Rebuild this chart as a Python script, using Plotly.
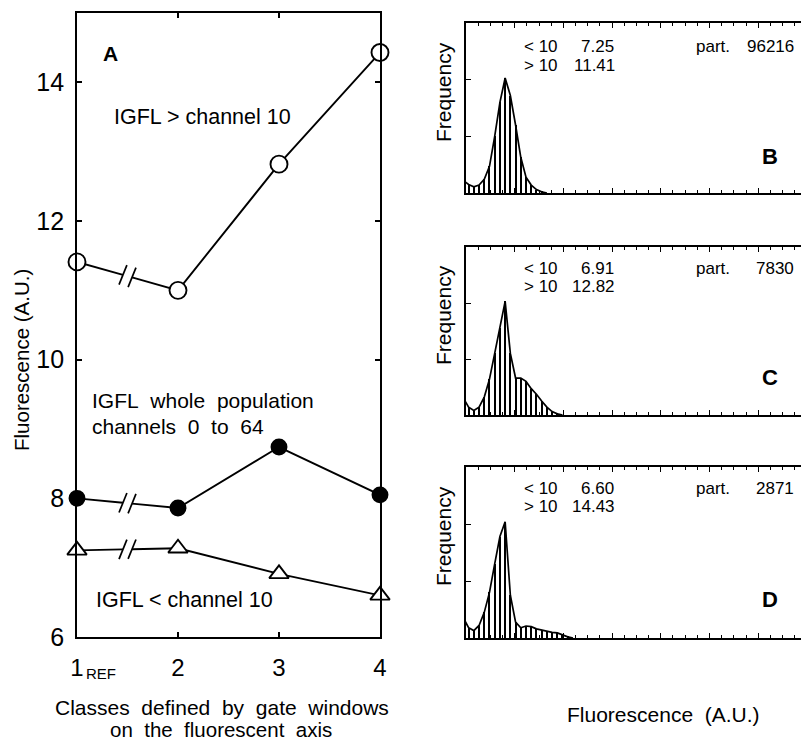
import plotly.graph_objects as go

W, H = 801, 741
FONT = "Liberation Sans, Arial, Helvetica, sans-serif"

# ---------------- data: panel A ----------------
classes = [1, 2, 3, 4]
igfl_above10 = [11.41, 11.0, 12.82, 14.43]
igfl_whole = [8.0, 7.86, 8.74, 8.05]
igfl_below10 = [7.25, 7.28, 6.91, 6.60]

# ---------------- data: histograms (frequency per channel, arbitrary units) ----------------
channels_B = list(range(0, 17))
freq_B = [0.22, 0.15, 0.11, 0.14, 0.24, 0.47, 1.00, 1.60, 2.03, 1.72, 1.20, 0.63, 0.28, 0.14, 0.06, 0.02, 0.0]
channels_C = list(range(0, 20))
freq_C = [0.30, 0.14, 0.08, 0.14, 0.32, 0.64, 1.10, 1.55, 2.03, 1.10, 0.66, 0.66, 0.60, 0.47, 0.37, 0.25, 0.14, 0.06, 0.02, 0.0]
channels_D = list(range(0, 22))
freq_D = [0.35, 0.18, 0.13, 0.22, 0.45, 0.80, 1.30, 1.78, 2.04, 0.75, 0.28, 0.18, 0.21, 0.20, 0.16, 0.14, 0.11, 0.10, 0.09, 0.05, 0.02, 0.0]

hist_stats = {
    "B": {"below": "7.25", "above": "11.41", "part": "96216"},
    "C": {"below": "6.91", "above": "12.82", "part": "7830"},
    "D": {"below": "6.60", "above": "14.43", "part": "2871"},
}

def px(x):
    return x / W

def py(y):
    return 1 - y / H

fig = go.Figure()

# ---------- panel A lines with axis break between class 1 and 2 ----------
BREAK_L, BREAK_R = 1.455, 1.545

def broken(xs, ys):
    y1, y2 = ys[0], ys[1]
    t = lambda xb: y1 + (y2 - y1) * (xb - xs[0]) / (xs[1] - xs[0])
    yl, yr = t(BREAK_L), t(BREAK_R)
    lx = [xs[0], BREAK_L, None, BREAK_R] + xs[1:]
    ly = [ys[0], yl, None, yr] + ys[1:]
    return lx, ly, (yl, yr)

series = [
    (igfl_above10, "circle", "white", 17),
    (igfl_whole, "circle", "black", 15),
    (igfl_below10, "triangle-up", "white", 17),
]
for ys, sym, fill, size in series:
    lx, ly, (yl, yr) = broken(classes, ys)
    fig.add_trace(go.Scatter(x=lx, y=ly, mode="lines", line=dict(color="black", width=1.9),
                             xaxis="x", yaxis="y", showlegend=False, hoverinfo="skip"))
    fig.add_trace(go.Scatter(x=[BREAK_L, BREAK_R], y=[yl, yr], mode="markers",
                             marker=dict(symbol="line-ns", size=15, angle=22,
                                         line=dict(color="black", width=1.7)),
                             xaxis="x", yaxis="y", showlegend=False, hoverinfo="skip"))
    fig.add_trace(go.Scatter(x=classes, y=ys, mode="markers",
                             marker=dict(symbol=sym, size=size, color=fill,
                                         line=dict(color="black", width=1.9)),
                             xaxis="x", yaxis="y", showlegend=False, cliponaxis=False))

# ---------- histograms ----------
hists = [("B", channels_B, freq_B, "2"), ("C", channels_C, freq_C, "3"), ("D", channels_D, freq_D, "4")]
for name, ch, fr, ax in hists:
    fig.add_trace(go.Bar(x=ch, y=fr, width=0.22, marker=dict(color="black", line=dict(width=0)),
                         xaxis="x" + ax, yaxis="y" + ax, showlegend=False, hoverinfo="skip"))
    fig.add_trace(go.Scatter(x=ch, y=fr, mode="lines", line=dict(color="black", width=1.7),
                             xaxis="x" + ax, yaxis="y" + ax, showlegend=False, hoverinfo="skip"))

axis_common = dict(showgrid=False, zeroline=False, showline=True, linecolor="black",
                   linewidth=1.9, ticks="inside", tickcolor="black", automargin=False)

layout = dict(
    width=W, height=H, margin=dict(l=0, r=0, t=0, b=0),
    paper_bgcolor="white", plot_bgcolor="white",
    font=dict(family=FONT, color="black"),
    bargap=0,
    xaxis=dict(**axis_common, domain=[px(77), px(380)], range=[1, 4],
               tickvals=[1, 2, 3, 4], ticktext=["1", "2", "3", "4"], ticklen=5, tickwidth=1.6,
               mirror="ticks", tickfont=dict(size=24), ticklabelstandoff=8),
    yaxis=dict(**axis_common, domain=[py(637), py(13)], range=[6, 15],
               tickvals=[6, 8, 10, 12, 14], ticklen=5, tickwidth=1.6,
               mirror="ticks", tickfont=dict(size=25), ticklabelstandoff=6),
)

hist_dom = {"2": (23, 193), "3": (247, 415), "4": (467, 638)}
for ax, (top, bot) in hist_dom.items():
    layout["xaxis" + ax] = dict(**axis_common, domain=[px(466), 1.0], range=[0.5, 64.7],
                                anchor="y" + ax, tick0=0.5, dtick=9.333, ticklen=5, tickwidth=1.4,
                                showticklabels=False, mirror="allticks",
                                minor=dict(tick0=0.5, dtick=2.333, ticks="inside", ticklen=3,
                                           tickcolor="black", tickwidth=1.2))
    layout["yaxis" + ax] = dict(**axis_common, domain=[py(bot), py(top)], range=[0, 3],
                                anchor="x" + ax, tickvals=[1, 2], ticklen=5, tickwidth=1.4,
                                showticklabels=False, mirror=False)

fig.update_layout(**layout)

ann = []
def txt(x, y, s, size, xanchor="center", bold=False, angle=0):
    ann.append(dict(x=px(x), y=py(y), xref="paper", yref="paper", text=("<b>%s</b>" % s) if bold else s,
                    showarrow=False, xanchor=xanchor, yanchor="middle", textangle=angle,
                    font=dict(size=size, family=FONT, color="black")))

NB = "\u00a0"
# panel A texts
txt(110, 53, "A", 21, bold=True)
txt(112, 117, "IGFL &gt; channel 10", 21.5, xanchor="left")
txt(90, 400, ("IGFL" + NB * 2 + "whole" + NB * 2 + "population"), 21, xanchor="left")
txt(90, 426, ("channels" + NB * 2 + "0" + NB * 2 + "to" + NB * 2 + "64"), 21, xanchor="left")
txt(94, 600, "IGFL &lt; channel 10", 21.5, xanchor="left")
txt(84, 673, "REF", 15, xanchor="left")
txt(22, 360, "Fluorescence (A.U.)", 20.5, angle=-90)
txt(222, 707, ("Classes" + NB + " defined" + NB + " by" + NB + " gate" + NB + " windows"), 21)
txt(221, 729, ("on" + NB + " the" + NB + " fluorescent" + NB + " axis"), 20.5)

# histogram texts
rows = {"B": (46, 66, 156, 108), "C": (268, 286, 377, 331), "D": (488, 506, 599, 552)}
for name, (r1, r2, ly, fy) in rows.items():
    st = hist_stats[name]
    txt(522, r1, "&lt; 10", 17, xanchor="left")
    txt(522, r2, "&gt; 10", 17, xanchor="left")
    txt(616, r1, st["below"], 17, xanchor="right")
    txt(617, r2, st["above"], 17, xanchor="right")
    txt(694, r1, "part.", 17, xanchor="left")
    txt(796, r1, st["part"], 17, xanchor="right")
    txt(770, ly, name, 22, bold=True)
    txt(443, fy - 16, "Frequency", 21, angle=-90)

txt(663, 714, "Fluorescence" + NB + " (A.U.)", 21)

fig.update_layout(annotations=ann)
fig.write_html("out.html", config={"displayModeBar": False},
               post_script="document.body.style.margin='0px';document.body.style.overflow='hidden';")
